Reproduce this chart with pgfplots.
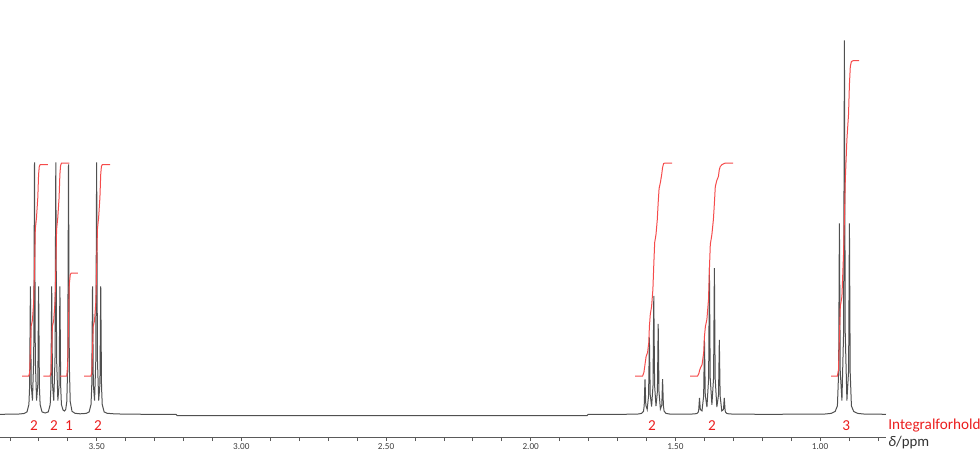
\documentclass[border=0pt]{standalone}
\usepackage{fontspec}
\setmainfont{Carlito}
\usepackage{pgfplots}
\pgfplotsset{compat=1.18}
\definecolor{spec}{RGB}{80,80,80}
\definecolor{integ}{RGB}{245,75,75}
\definecolor{lbl}{RGB}{235,30,30}
\definecolor{axisgray}{RGB}{90,90,90}
\begin{document}
\begin{tikzpicture}
\useasboundingbox (0,-7pt) rectangle (490pt,218.5pt);
\begin{axis}[
  at={(0,0)}, anchor=south west,
  scale only axis, width=443pt, height=218.5pt,
  x dir=reverse,
  xmin=0.7722, xmax=3.8343, ymin=-22.5, ymax=414.5,
  axis x line=bottom, axis y line=none,
  x axis line style={-, draw=axisgray, line width=0.5pt},
  xtick={1.0,1.5,2.0,2.5,3.0,3.5},
  minor xtick={0.8,0.9,1.1,1.2,1.3,1.4,1.6,1.7,1.8,1.9,2.1,2.2,2.3,2.4,2.6,2.7,2.8,2.9,3.1,3.2,3.3,3.4,3.6,3.7,3.8},
  tick align=outside, major tick length=2pt, minor tick length=2pt,
  tick style={axisgray, line width=0.4pt},
  xticklabel={\pgfmathprintnumber[fixed,fixed zerofill,precision=2]{\tick}},
  /pgf/number format/assume math mode=true,
  xticklabel style={font=\fontsize{4.6}{5}\selectfont, text=black!75, inner sep=1pt},
  clip=false,
]
% spectrum
\addplot[spec, line width=0.5pt] coordinates {
(3.8343,0.2) (3.7720,0.4) (3.7513,1.0) (3.7409,2.6) (3.7344,10) (3.7319,28)
(3.7292,128) (3.7264,30) (3.7221,14) (3.7178,55) (3.7150,252) (3.7122,55)
(3.7079,14) (3.7036,30) (3.7008,128) (3.6981,28) (3.6956,10) (3.6891,2.6)
(3.6784,1.5)
(3.6673,2.6) (3.6608,10) (3.6583,28) (3.6556,128) (3.6528,30) (3.6485,14)
(3.6442,55) (3.6414,252) (3.6386,55) (3.6343,14) (3.6300,30) (3.6272,128)
(3.6245,28) (3.6220,10) (3.6165,4.5) (3.6113,3.5) (3.6072,5) (3.6034,13)
(3.6002,50) (3.5975,250) (3.5947,50) (3.5916,13) (3.5854,3.2) (3.5750,1.2)
(3.5577,0.7) (3.5366,1.1)
(3.5262,2.6) (3.5197,10) (3.5172,28) (3.5145,128) (3.5117,30) (3.5074,14)
(3.5031,55) (3.5003,252) (3.4975,55) (3.4932,14) (3.4889,30) (3.4861,128)
(3.4834,28) (3.4809,10) (3.4744,2.6) (3.4637,1.2) (3.4367,0.6) (3.3849,0.3)
(3.2259,0.1) (3.2224,-1) (1.8052,-1) (1.8017,0.1) (1.6912,0.2)
(1.6497,0.3) (1.6290,0.5) (1.6169,1.1) (1.6103,3.2) (1.6079,8.5) (1.6051,35)
(1.6023,9.5) (1.5975,5) (1.5927,19) (1.5899,77) (1.5871,20) (1.5823,8)
(1.5774,29) (1.5747,118.5) (1.5719,29) (1.5671,8.5) (1.5622,23) (1.5595,90.5)
(1.5567,22.5) (1.5519,5.5) (1.5470,9.5) (1.5443,35.3) (1.5415,8.8) (1.5391,3.4)
(1.5325,1.1) (1.5204,0.5) (1.4976,0.3)
(1.4492,0.4) (1.4336,0.6) (1.4250,1.1) (1.4212,2.3) (1.4195,4.3) (1.4167,16.5)
(1.4139,5) (1.4081,3.6) (1.4024,18.5) (1.3996,74.7) (1.3968,19.5) (1.3910,7.5)
(1.3852,36) (1.3825,146.4) (1.3797,36.5) (1.3739,9.7) (1.3681,36.5) (1.3653,146.4)
(1.3626,36) (1.3568,7.5) (1.3510,19.5) (1.3482,74.7) (1.3454,18.5) (1.3397,3.6)
(1.3339,5) (1.3311,16.5) (1.3283,4.3) (1.3266,2.3) (1.3228,1.1) (1.3142,0.6)
(1.2986,0.4) (1.2000,0.2)
(1.0690,0.3) (0.9826,0.5) (0.9619,1.1) (0.9480,3.0) (0.9401,8.6) (0.9359,42)
(0.9332,191) (0.9304,44) (0.9245,14) (0.9187,82) (0.9159,374) (0.9131,82)
(0.9073,14) (0.9014,44) (0.8986,191) (0.8959,42) (0.8917,8.6) (0.8838,3.0)
(0.8699,1.1) (0.8492,0.5) (0.7722,0.2)
};
% integrals
\addplot[integ, line width=0.5pt] coordinates {
(3.7582,38.5) (3.7347,38.5) (3.7316,42) (3.7292,65) (3.7268,88) (3.7223,94)
(3.7178,112) (3.7150,145) (3.7123,185) (3.7081,197) (3.7036,217) (3.7009,240)
(3.6985,248) (3.6950,250) (3.6684,250)
};
\addplot[integ, line width=0.5pt] coordinates {
(3.6846,38.5) (3.6611,38.5) (3.6580,42) (3.6556,65) (3.6532,88) (3.6487,94)
(3.6442,112) (3.6414,145) (3.6387,185) (3.6345,197) (3.6300,217) (3.6273,240)
(3.6249,249) (3.6214,251.5) (3.5948,251.5)
};
\addplot[integ, line width=0.5pt] coordinates {
(3.6269,38.5) (3.6034,38.5) (3.6003,50) (3.5975,90) (3.5948,130) (3.5913,140)
(3.5878,141.5) (3.5647,141.5)
};
\addplot[integ, line width=0.5pt] coordinates {
(3.5435,38.5) (3.5200,38.5) (3.5169,42) (3.5145,65) (3.5121,88) (3.5076,94)
(3.5031,112) (3.5003,145) (3.4976,185) (3.4934,197) (3.4889,217) (3.4862,240)
(3.4838,248) (3.4803,250) (3.4537,250)
};
\addplot[integ, line width=0.5pt] coordinates {
(1.6394,38.5) (1.6134,38.5) (1.6089,42) (1.6051,50) (1.6013,58) (1.5962,62)
(1.5920,72) (1.5899,88) (1.5868,100) (1.5823,108) (1.5778,125) (1.5747,150)
(1.5716,172) (1.5671,180) (1.5626,195) (1.5595,212) (1.5564,226) (1.5519,232)
(1.5474,240) (1.5443,247) (1.5408,251) (1.5357,251.5) (1.5115,251.5)
};
\addplot[integ, line width=0.5pt] coordinates {
(1.4492,38.5) (1.4233,38.5) (1.4188,41) (1.4167,44) (1.4129,47) (1.4078,50)
(1.4022,62) (1.3996,78) (1.3964,88) (1.3912,95) (1.3856,115) (1.3825,145)
(1.3794,170) (1.3739,180) (1.3687,195) (1.3653,211) (1.3621,228) (1.3570,234)
(1.3514,238) (1.3482,245) (1.3449,248) (1.3386,250) (1.3311,251) (1.3266,251.5)
(1.3006,251.5)
};
\addplot[integ, line width=0.5pt] coordinates {
(0.9619,38.5) (0.9401,38.5) (0.9363,45) (0.9332,78) (0.9301,108) (0.9245,118)
(0.9190,160) (0.9159,196) (0.9128,235) (0.9073,275) (0.9017,300) (0.8986,330)
(0.8955,348) (0.8917,353) (0.8858,353.8) (0.8651,353.8)
};
% integral ratios
\begin{scope}[every node/.style={text=lbl, font=\fontsize{7.6}{8}\selectfont, inner sep=0pt}]
\node at (axis cs:3.7168,-11.5) {2};
\node at (axis cs:3.6476,-11.5) {2};
\node at (axis cs:3.5958,-11.5) {1};
\node at (axis cs:3.4956,-11.5) {2};
\node at (axis cs:1.5806,-11.5) {2};
\node at (axis cs:1.3732,-11.5) {2};
\node at (axis cs:0.9100,-11.5) {3};
\node[anchor=west, xshift=1pt] at (axis cs:0.7722,-11.5) {Integralforhold};
\end{scope}
\node[anchor=west, xshift=1pt, inner sep=0pt, text=black!80, font=\fontsize{7.4}{8}\selectfont]
  at (axis cs:0.7722,-28.5) {\textit{δ}/ppm};
\end{axis}
\end{tikzpicture}
\end{document}
